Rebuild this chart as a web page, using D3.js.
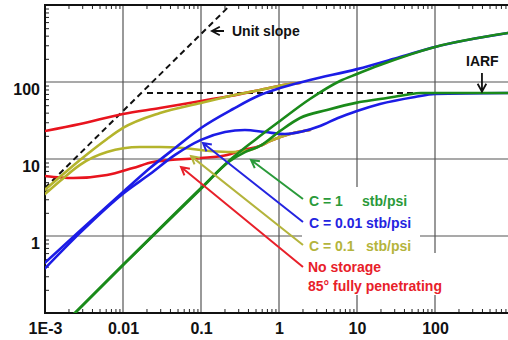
<!DOCTYPE html>
<html>
<head>
<meta charset="utf-8">
<script src="https://cdn.jsdelivr.net/npm/d3@7"></script>
<style>
  body { margin: 0; background: #fff; }
  svg { display: block; }
</style>
</head>
<body>
<svg width="508" height="340"></svg>
<script>
const width = 508, height = 340;

// tick labels
const xTickVals = [0.001, 0.01, 0.1, 1, 10, 100];
const xTickLabels = ['1E-3', '0.01', '0.1', '1', '10', '100'];
const yTickVals = [1, 10, 100];
const yTickLabels = ['1', '10', '100'];

// [time, value] pairs
const redPressure = [[0.001,23.1],[0.00281,28.5],[0.01,38.4],[0.0298,45.9],[0.1,56.7],[0.235,65.8],[0.571,78.7],[1.38,94.2],[1.86,97]];
const redDeriv = [[0.001,6.02],[0.00229,5.66],[0.00624,6.2],[0.0134,7.64],[0.0243,9.14],[0.0401,9.7],[0.1,10.3],[0.216,11.3],[0.345,13.1],[0.571,14.8],[0.767,17.1],[1.38,21.1],[2.49,23.8]];
const olivePressure = [[0.001,4.0],[0.0016,6.0],[0.00281,9.7],[0.00624,18.2],[0.01,25.3],[0.0298,39.6],[0.1,53.4],[0.235,65.8],[0.571,78.7],[1.38,94.2],[1.86,97]];
const oliveDeriv = [[0.001,3.5],[0.0016,5.3],[0.00281,8.4],[0.00624,12.3],[0.0165,14.3],[0.0298,14.3],[0.0588,13.9],[0.13,12.7],[0.257,12.3],[0.425,13.1],[0.571,14.8],[0.767,17.1],[1.38,21.1],[2.49,23.8]];
const bluePressure = [[0.001,0.45],[0.00281,1.17],[0.01,3.73],[0.0222,7.64],[0.0465,13.9],[0.1,25.3],[0.257,44.6],[0.571,67.8],[1.03,83.6],[2.49,106],[10,147],[35.6,211],[100,285],[863,433]];
const blueDeriv = [[0.001,0.38],[0.00281,1.1],[0.01,3.55],[0.0222,6.38],[0.0465,11.3],[0.1,17.7],[0.203,22.4],[0.366,23.8],[0.662,22.4],[1.19,21.1],[1.86,22.4],[3.36,26.8],[5.7,34.1],[10,42],[19.7,51.8],[55.4,63.9],[100,69.8],[863,72]];
const greenPressure = [[0.0023,0.095],[0.01,0.42],[0.1,4.2],[0.235,9.7],[0.492,17.7],[1.03,31.2],[2.49,60.1],[6.05,103],[10,127],[19.7,166],[100,285],[863,433]];
const greenDeriv = [[0.0023,0.095],[0.01,0.42],[0.1,4.1],[0.235,9.42],[0.366,12.3],[0.571,14.8],[1.03,23.1],[1.86,34.1],[4.12,43.3],[10,54],[19.7,60],[41.2,67.8],[66.2,72],[863,72]];
const unitSlope = [[0.001,4.2],[0.238,1000]];
const iarfLine = [[0.0203,72],[1000,72]];

const svg = d3.select('svg');
const x = d3.scaleLog().domain([1e-3, 1e3]).range([45, 513]);
const y = d3.scaleLog().domain([0.1, 1000]).range([313, 5]);
const font = '"Liberation Sans", Arial, sans-serif';

svg.append('defs').append('clipPath').attr('id', 'plot')
    .append('rect').attr('x', 45).attr('y', 5).attr('width', 470).attr('height', 308);

// grid
const grid = svg.append('g').attr('stroke', '#555').attr('stroke-width', 1.2);
grid.selectAll('.vx').data([0.01, 0.1, 1, 10, 100]).enter().append('line')
    .attr('x1', d => x(d)).attr('x2', d => x(d)).attr('y1', y(1000)).attr('y2', y(0.1));
grid.selectAll('.hy').data(yTickVals).enter().append('line')
    .attr('x1', x(1e-3)).attr('x2', width).attr('y1', d => y(d)).attr('y2', d => y(d));

// white boxes behind the legend texts
svg.append('rect').attr('x', 302).attr('y', 187).attr('width', 118).attr('height', 66).attr('fill', '#fff');
svg.append('rect').attr('x', 302).attr('y', 253).attr('width', 146).attr('height', 42).attr('fill', '#fff');

// minor ticks
const minorX = x.ticks().filter(d => Math.abs(Math.log10(d) - Math.round(Math.log10(d))) > 1e-6);
const minorY = y.ticks().filter(d => Math.abs(Math.log10(d) - Math.round(Math.log10(d))) > 1e-6);
function minor(g) { g.select('.domain').remove(); g.selectAll('line').attr('stroke', '#222'); }
svg.append('g').attr('transform', 'translate(0,313)')
    .call(d3.axisBottom(x).tickValues(minorX).tickSize(-4).tickFormat('')).call(minor);
svg.append('g').attr('transform', 'translate(0,5)')
    .call(d3.axisTop(x).tickValues(minorX).tickSize(-4).tickFormat('')).call(minor);
svg.append('g').attr('transform', 'translate(45,0)')
    .call(d3.axisLeft(y).tickValues(minorY).tickSize(-4).tickFormat('')).call(minor);

// tick labels
svg.append('g').attr('transform', 'translate(0,313)')
    .call(d3.axisBottom(x).tickValues(xTickVals).tickFormat((d, i) => xTickLabels[i]).tickSize(0).tickPadding(10))
    .call(g => g.select('.domain').remove())
    .selectAll('text').style('font-family', font).style('font-size', '16px').style('font-weight', 'bold').attr('fill', '#111');
svg.append('g').attr('transform', 'translate(45,0)')
    .call(d3.axisLeft(y).tickValues(yTickVals).tickFormat((d, i) => yTickLabels[i]).tickSize(0).tickPadding(5))
    .call(g => g.select('.domain').remove())
    .selectAll('text').attr('dy', '0.75em').style('font-family', font).style('font-size', '16px').style('font-weight', 'bold').attr('fill', '#111');

// frame
svg.append('path').attr('d', `M${width},5H45V313H${width}`).attr('fill', 'none').attr('stroke', '#111').attr('stroke-width', 2);

const line = d3.line().x(d => x(d[0])).y(d => y(d[1])).curve(d3.curveMonotoneX);
const plot = svg.append('g').attr('clip-path', 'url(#plot)');

// dashed reference lines
[unitSlope, iarfLine].forEach(d => plot.append('path').attr('d', line(d))
    .attr('fill', 'none').attr('stroke', '#111').attr('stroke-width', 2).attr('stroke-dasharray', '6,4'));

const series = [
    { data: redPressure, color: '#e8141e' },
    { data: redDeriv, color: '#e8141e' },
    { data: olivePressure, color: '#b4b42c' },
    { data: oliveDeriv, color: '#b4b42c' },
    { data: bluePressure, color: '#1c1ce6' },
    { data: blueDeriv, color: '#1c1ce6' },
    { data: greenPressure, color: '#1a8a1a' },
    { data: greenDeriv, color: '#1a8a1a' },
];
plot.selectAll('.curve').data(series).enter().append('path')
    .attr('d', d => line(d.data)).attr('fill', 'none')
    .attr('stroke', d => d.color).attr('stroke-width', 2.6).attr('stroke-linecap', 'round');

// arrows
function arrow(x1, y1, x2, y2, color, w) {
    const a = Math.atan2(y1 - y2, x1 - x2), L = 9, s = 0.5;
    const p = [x2 + L * Math.cos(a + s), y2 + L * Math.sin(a + s), x2 + L * Math.cos(a - s), y2 + L * Math.sin(a - s)];
    svg.append('path')
        .attr('d', `M${x1},${y1}L${x2},${y2}M${p[0]},${p[1]}L${x2},${y2}L${p[2]},${p[3]}`)
        .attr('fill', 'none').attr('stroke', color).attr('stroke-width', w);
}
arrow(224, 31, x(0.138), 31, '#111', 1.8);
arrow(x(400), 73, x(400), y(75), '#111', 1.8);
arrow(303, 199, x(0.438), y(9.7), '#2a9a3a', 2);
arrow(303, 222, x(0.106), y(16.1), '#2424e0', 2);
arrow(303, 245, x(0.0745), y(10.9), '#b4b43c', 2);
arrow(303, 267, x(0.0555), y(7.87), '#e8202a', 2);

// annotations
const notes = [
    { t: 'Unit slope', x: 232, y: 36, c: '#111' },
    { t: 'IARF', x: 466, y: 66, c: '#111' },
    { t: 'C = 1', x: 309, y: 206, c: '#2a9a3a' },
    { t: 'stb/psi', x: 362, y: 206, c: '#2a9a3a' },
    { t: 'C = 0.01', x: 309, y: 228, c: '#2424e0' },
    { t: 'stb/psi', x: 366, y: 228, c: '#2424e0' },
    { t: 'C = 0.1', x: 309, y: 251, c: '#b4b43c' },
    { t: 'stb/psi', x: 366, y: 251, c: '#b4b43c' },
    { t: 'No storage', x: 308, y: 272, c: '#e8202a' },
    { t: '85° fully penetrating', x: 308, y: 291, c: '#e8202a' },
];
svg.selectAll('.note').data(notes).enter().append('text')
    .attr('x', d => d.x).attr('y', d => d.y).attr('fill', d => d.c)
    .style('font-family', font).style('font-size', '14px').style('font-weight', 'bold')
    .text(d => d.t);
</script>
</body>
</html>
